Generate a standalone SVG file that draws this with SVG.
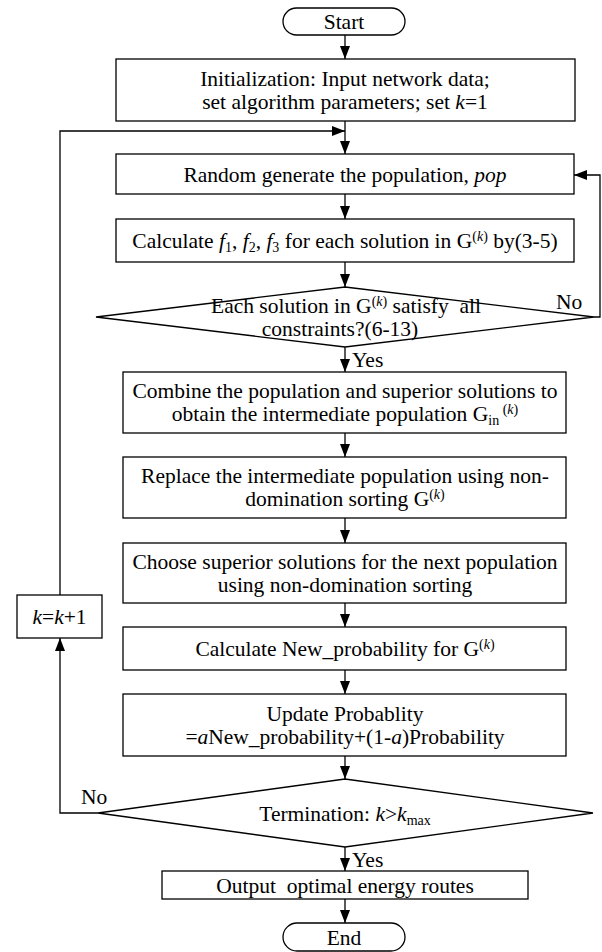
<svg xmlns="http://www.w3.org/2000/svg" width="602" height="952" viewBox="0 0 602 952">
<style>
.box{fill:#fff;stroke:#000;stroke-width:1.3}
.t{font-family:"Liberation Serif","Times New Roman",serif;font-size:21.5px;fill:#000;text-anchor:middle}
.l{font-family:"Liberation Serif","Times New Roman",serif;font-size:21.5px;fill:#000}
.i{font-style:italic}
.s{font-size:14px}
.conn{fill:none;stroke:#000;stroke-width:1.3}
</style>
<defs>
<marker id="ah" markerUnits="userSpaceOnUse" markerWidth="13" markerHeight="10" refX="13" refY="5" orient="auto">
<path d="M0,0 L13,5 L0,10 z" fill="#000"/>
</marker>
</defs>
<rect width="602" height="952" fill="#fff"/>
<g id="connectors">
<line class="conn" x1="345" y1="35" x2="345" y2="59" marker-end="url(#ah)"/>
<line class="conn" x1="345" y1="121" x2="345" y2="154" marker-end="url(#ah)"/>
<line class="conn" x1="345" y1="194" x2="345" y2="219" marker-end="url(#ah)"/>
<line class="conn" x1="345" y1="262" x2="345" y2="287" marker-end="url(#ah)"/>
<line class="conn" x1="345" y1="347" x2="345" y2="372" marker-end="url(#ah)"/>
<line class="conn" x1="345" y1="433" x2="345" y2="457" marker-end="url(#ah)"/>
<line class="conn" x1="345" y1="518" x2="345" y2="543" marker-end="url(#ah)"/>
<line class="conn" x1="345" y1="603" x2="345" y2="627" marker-end="url(#ah)"/>
<line class="conn" x1="345" y1="670" x2="345" y2="694" marker-end="url(#ah)"/>
<line class="conn" x1="345" y1="756" x2="345" y2="779" marker-end="url(#ah)"/>
<line class="conn" x1="345" y1="847" x2="345" y2="871" marker-end="url(#ah)"/>
<line class="conn" x1="345" y1="899" x2="345" y2="923" marker-end="url(#ah)"/>
<polyline class="conn" points="594,317 600,317 600,175 574,175" marker-end="url(#ah)"/>
<polyline class="conn" points="98,813 60,813 60,638" marker-end="url(#ah)"/>
<polyline class="conn" points="60,595 60,131 345,131" marker-end="url(#ah)"/>
<text class="l" x="556" y="309">No</text>
<text class="l" x="352" y="367">Yes</text>
<text class="l" x="81" y="804">No</text>
<text class="l" x="352" y="867">Yes</text>
</g>
<g id="start">
<rect class="box" x="283" y="8" width="122" height="27" rx="13.5"/>
<text class="t" x="344" y="29">Start</text>
</g>
<g id="init">
<rect class="box" x="116" y="59" width="459" height="62"/>
<text class="t" x="345" y="85.5">Initialization: Input network data;</text>
<text class="t" x="345" y="108.5">set algorithm parameters; set <tspan class="i">k</tspan>=1</text>
</g>
<g id="random">
<rect class="box" x="116" y="154" width="458" height="40"/>
<text class="t" x="345" y="181.5">Random generate the population, <tspan class="i">pop</tspan></text>
</g>
<g id="calc">
<rect class="box" x="116" y="219" width="458" height="43"/>
<text class="t" x="345" y="248">Calculate <tspan class="i">f</tspan><tspan class="s" dy="4">1</tspan><tspan dy="-4">, </tspan><tspan class="i">f</tspan><tspan class="s" dy="4">2</tspan><tspan dy="-4">, </tspan><tspan class="i">f</tspan><tspan class="s" dy="4">3</tspan><tspan dy="-4"> for each solution in G</tspan><tspan class="s" dy="-7">(</tspan><tspan class="s i">k</tspan><tspan class="s">)</tspan><tspan dy="7"> by(3-5)</tspan></text>
</g>
<g id="check">
<polygon class="box" points="345,287 594,317 345,347 96,317" style="fill:none"/>
<text class="t" x="346" y="312.5">Each solution in G<tspan class="s" dy="-7">(</tspan><tspan class="s i">k</tspan><tspan class="s">)</tspan><tspan dy="7"> satisfy&#160; all</tspan></text>
<text class="t" x="340" y="335.5">constraints?(6-13)</text>
</g>
<g id="combine">
<rect class="box" x="123" y="372" width="443" height="61"/>
<text class="t" x="345" y="398">Combine the population and superior solutions to</text>
<text class="t" x="345" y="421">obtain the intermediate population G<tspan class="s" dy="4">in</tspan><tspan class="s" dy="-11"> (</tspan><tspan class="s i">k</tspan><tspan class="s">)</tspan></text>
</g>
<g id="replace">
<rect class="box" x="123" y="457" width="443" height="61"/>
<text class="t" x="345" y="483">Replace the intermediate population using non-</text>
<text class="t" x="345" y="506">domination sorting G<tspan class="s" dy="-7">(</tspan><tspan class="s i">k</tspan><tspan class="s">)</tspan></text>
</g>
<g id="choose">
<rect class="box" x="123" y="543" width="443" height="60"/>
<text class="t" x="345" y="568.5">Choose superior solutions for the next population</text>
<text class="t" x="345" y="591.5">using non-domination sorting</text>
</g>
<g id="increment">
<rect class="box" x="17" y="595" width="85" height="43"/>
<text class="t" x="59.5" y="624"><tspan class="i">k</tspan>=<tspan class="i">k</tspan>+1</text>
</g>
<g id="newprob">
<rect class="box" x="123" y="627" width="443" height="43"/>
<text class="t" x="345" y="656">Calculate New_probability for G<tspan class="s" dy="-7">(</tspan><tspan class="s i">k</tspan><tspan class="s">)</tspan></text>
</g>
<g id="update">
<rect class="box" x="123" y="694" width="443" height="62"/>
<text class="t" x="345" y="720.5">Update Probablity</text>
<text class="t" x="345" y="743.5">=<tspan class="i">a</tspan>New_probability+(1-<tspan class="i">a</tspan>)Probability</text>
</g>
<g id="termination">
<polygon class="box" points="345,779 593,813 345,847 98,813" style="fill:none"/>
<text class="t" x="345" y="820.5">Termination: <tspan class="i">k</tspan>&gt;<tspan class="i">k</tspan><tspan class="s" dy="4">max</tspan></text>
</g>
<g id="output">
<rect class="box" x="162" y="871" width="366" height="28"/>
<text class="t" x="345" y="892.5">Output&#160; optimal energy routes</text>
</g>
<g id="end">
<rect class="box" x="283" y="923" width="122" height="28" rx="14"/>
<text class="t" x="344" y="944.5">End</text>
</g>
</svg>
